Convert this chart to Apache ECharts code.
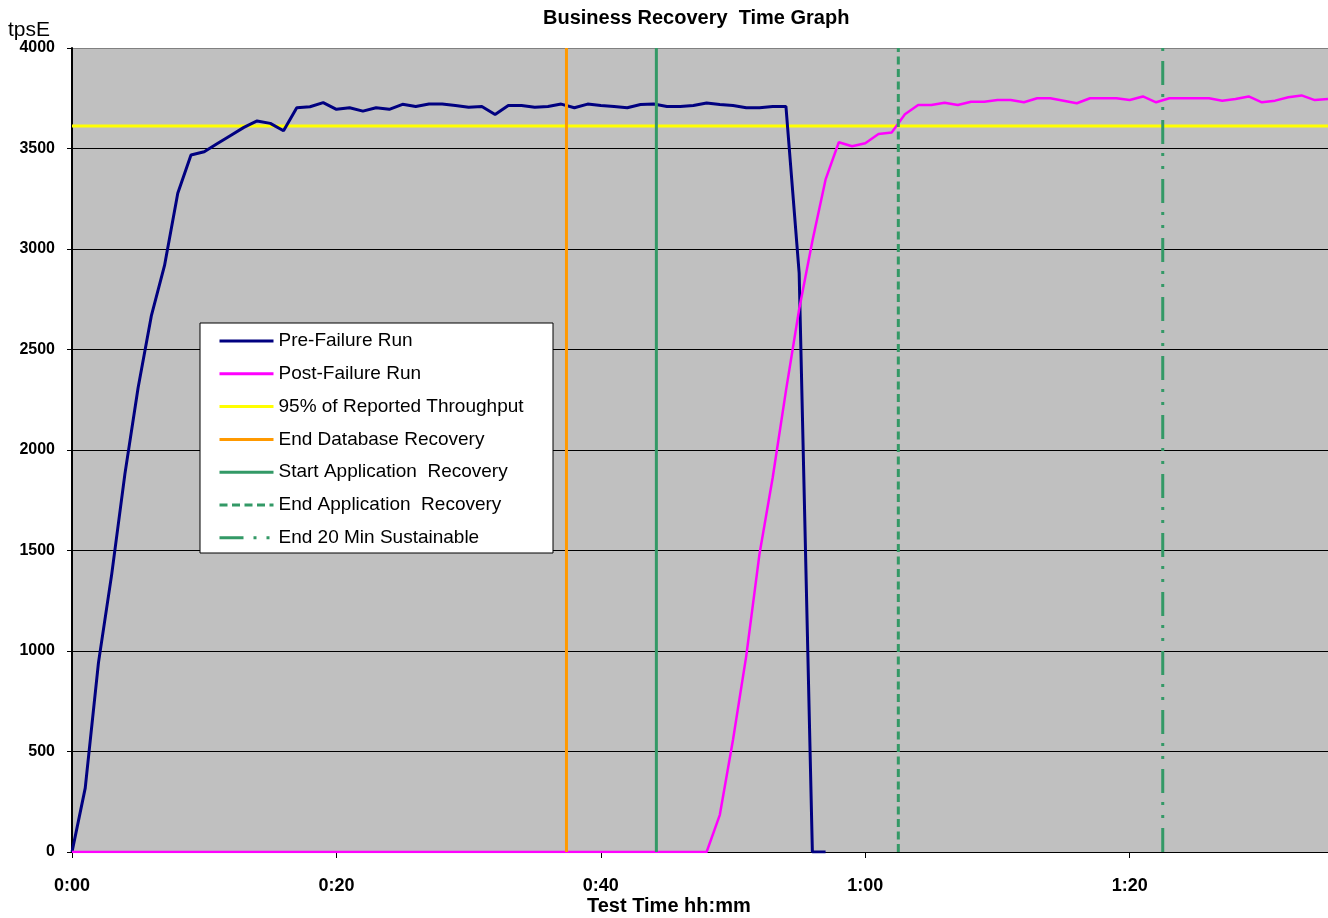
<!DOCTYPE html>
<html>
<head>
<meta charset="utf-8">
<script src="https://cdn.jsdelivr.net/npm/echarts@6/dist/echarts.min.js"></script>
<style>html,body{margin:0;padding:0;background:#fff}#c{width:1328px;height:918px}</style>
</head>
<body>
<div id="c"></div>
<script>
// ---- data (minutes, tpsE) ----
const preTimes = [0,1,2,3,4,5,6,7,8,9,10,11,12,13,14,15,16,17,18,19,20,21,22,23,24,25,26,27,28,29,30,31,32,33,34,35,36,37,38,39,40,41,42,43,44,45,46,47,48,49,50,51,52,53,54,55,56,57];
const preValues = [0,318,941,1380,1880,2310,2667,2918,3277,3468,3484,3525,3565,3605,3637,3625,3588,3703,3708,3728,3695,3703,3686,3703,3695,3720,3709,3721,3721,3714,3705,3709,3669,3714,3714,3705,3709,3721,3703,3721,3714,3709,3703,3719,3721,3709,3709,3714,3726,3719,3714,3703,3703,3709,3709,2880,0,0];
const postTimes = [0,48,49,50,51,52,53,54,55,56,57,58,59,60,61,62,63,64,65,66,67,68,69,70,71,72,73,74,75,76,77,78,79,80,81,82,83,84,85,86,87,88,89,90,91,92,93,94,95];
const postValues = [0,0,185,560,976,1483,1863,2294,2700,3040,3346,3531,3511,3526,3572,3580,3670,3716,3716,3728,3716,3733,3733,3741,3741,3730,3750,3750,3738,3725,3750,3750,3750,3741,3759,3730,3750,3750,3750,3750,3738,3746,3759,3730,3738,3755,3764,3741,3746];
const throughput95 = 3612;
const markerNames = ['End Database Recovery','Start Application  Recovery','End Application  Recovery','End 20 Min Sustainable'];
const markerTimes = [37.4, 44.2, 62.5, 82.5];
const seriesNames = ['Pre-Failure Run','Post-Failure Run','95% of Reported Throughput'];

const FONT = '"Liberation Sans", Arial, sans-serif';
const pairs = (xs, ys) => xs.map((x, i) => [x, ys[i]]);
const fmt = v => Math.floor(v / 60) + ':' + String(Math.round(v % 60)).padStart(2, '0');

const markerStyles = [
  {color:'#FF9900', width:3, type:'solid'},
  {color:'#339966', width:3, type:'solid'},
  {color:'#339966', width:3, type:[8,4.5]},
  {color:'#339966', width:3, type:[24,10,3,10,3,9]}
];

const series = [
  {name: seriesNames[0], type:'line', data: pairs(preTimes, preValues), symbol:'none',
   lineStyle:{color:'#000080', width:3}, itemStyle:{color:'#000080'}, z:3},
  {name: seriesNames[1], type:'line', data: pairs(postTimes, postValues), symbol:'none',
   lineStyle:{color:'#FF00FF', width:2.5}, itemStyle:{color:'#FF00FF'}, z:3},
  {name: seriesNames[2], type:'line', data: [[0, throughput95],[95, throughput95]], symbol:'none',
   lineStyle:{color:'#FFFF00', width:3}, itemStyle:{color:'#FFFF00'}, z:2}
];
markerNames.forEach((n, i) => {
  const s = markerStyles[i];
  series.push({name:n, type:'line', data:[[markerTimes[i],0],[markerTimes[i],4000]], symbol:'none',
    lineStyle:{color:s.color, width:s.width, type:s.type}, itemStyle:{color:s.color}, z:4});
});

const chart = echarts.init(document.getElementById('c'), null, {renderer:'canvas'});
chart.setOption({
  animation:false,
  backgroundColor:'#ffffff',
  grid:{left:72, right:0, top:48, bottom:66, show:true, backgroundColor:'#C0C0C0', borderWidth:0},
  xAxis:{type:'value', min:0, max:95, interval:20,
    axisLine:{show:true, onZero:false, lineStyle:{color:'#000', width:1}},
    axisTick:{show:true, length:6, lineStyle:{color:'#000'}},
    axisLabel:{formatter:fmt, showMaxLabel:false, margin:25, color:'#000', fontFamily:FONT, fontWeight:'bold', fontSize:18},
    splitLine:{show:false}},
  yAxis:{type:'value', min:0, max:4000, interval:500,
    axisLine:{show:true, lineStyle:{color:'#000', width:2}},
    axisTick:{show:true, length:5, lineStyle:{color:'#000'}},
    axisLabel:{formatter: v => String(v), margin:17, color:'#000', fontFamily:FONT, fontWeight:'bold', fontSize:16},
    splitLine:{show:true, lineStyle:{color:['#000','#000','#000','#000','#000','#000','#000','#000','#808080'], width:1}}},
  legend:{show:true, orient:'vertical', left:218, top:331, padding:0, itemWidth:54, itemHeight:20, itemGap:12.8,
    selectedMode:false, data: seriesNames.concat(markerNames), z:6,
    itemStyle:{opacity:0},
    lineStyle:{width:3},
    textStyle:{fontFamily:FONT, fontSize:19, color:'#000', lineHeight:20}},
  graphic:[
    {type:'rect', z:5, shape:{x:200, y:323, width:353, height:230}, style:{fill:'#fff', stroke:'#000', lineWidth:1}},
    {type:'text', z:6, left:543, top:8, style:{text:'Business Recovery  Time Graph', font:'bold 20px '+FONT, fill:'#000'}},
    {type:'text', z:6, left:8, top:20, style:{text:'tpsE', font:'21px '+FONT, fill:'#000'}},
    {type:'text', z:6, left:587, top:896, style:{text:'Test Time hh:mm', font:'bold 20px '+FONT, fill:'#000'}}
  ],
  series: series
});
</script>
</body>
</html>
